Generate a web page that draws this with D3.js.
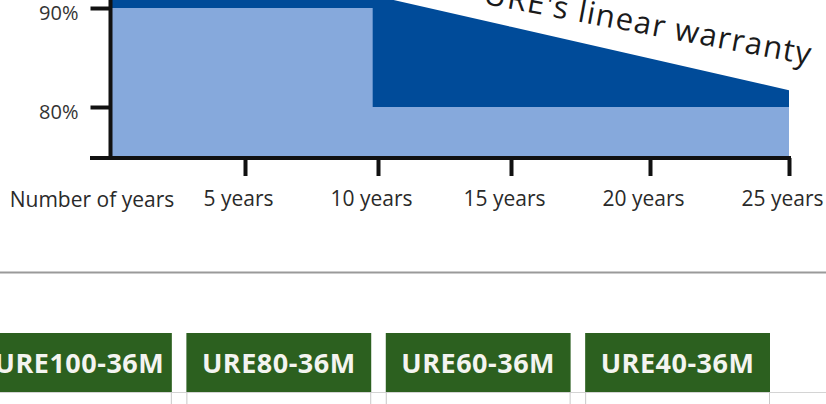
<!DOCTYPE html>
<html>
<head>
<meta charset="utf-8">
<script src="https://cdn.jsdelivr.net/npm/d3@7"></script>
<style>
  body { margin: 0; background: #fff; }
  svg { display: block; }
  text { font-family: "Open Sans", "Noto Sans", sans-serif; }
</style>
</head>
<body>
<div id="chart"></div>
<script>
// data
let stepYears = [0, 9.8, 25];
let stepPct = [90, 80, 80];
let linearYears = [0, 15, 25];
let linearPct = [97.3, 88.1, 81.7];
let yTicks = [80, 90];
let xTicks = [5, 10, 15, 20, 25];
let xTickLabels = ["5 years", "10 years", "15 years", "20 years", "25 years"];
let models = ["URE100-36M", "URE80-36M", "URE60-36M", "URE40-36M"];

let width = 826, height = 404;

let svg = d3.select("#chart")
  .append("svg")
  .attr("width", width)
  .attr("height", height);

// x is a bit uneven in the original drawing
let x = d3.scaleLinear()
  .domain([0, 15, 25])
  .range([112, 511, 789]);

let y = d3.scaleLinear()
  .domain([75, 90])
  .range([156.5, 8]);

let linearData = linearYears.map((d, i) => [d, linearPct[i]]);
let stepData = stepYears.map((d, i) => [d, stepPct[i]]);

// dark blue: linear warranty
svg.append("path")
  .datum(linearData)
  .attr("fill", "#004b99")
  .attr("d", d3.area()
    .x(d => x(d[0]))
    .y0(y(75))
    .y1(d => y(d[1])));

// light blue: step warranty on top
svg.append("path")
  .datum(stepData)
  .attr("fill", "#86a9dc")
  .attr("d", d3.area()
    .curve(d3.curveStepAfter)
    .x(d => x(d[0]))
    .y0(y(75))
    .y1(d => y(d[1])));

// label along the slope
let lx = 810, ly = 65;
svg.append("text")
  .attr("transform", "translate(" + lx + "," + ly + ") rotate(10.6)")
  .attr("text-anchor", "end")
  .attr("font-size", 31)
  .attr("letter-spacing", 1.2)
  .attr("fill", "#1a1a1a")
  .text("URE's linear warranty");

// Y axis
let yAxis = svg.append("g")
  .attr("transform", "translate(110.5,0)")
  .call(d3.axisLeft(y)
    .tickValues(yTicks)
    .tickSize(20)
    .tickPadding(12)
    .tickFormat(d => d + "%"));
yAxis.select(".domain").remove();
yAxis.selectAll(".tick line").attr("stroke", "#111").attr("stroke-width", 4);
yAxis.selectAll(".tick text")
  .attr("font-family", "Open Sans, sans-serif")
  .attr("font-size", 20)
  .attr("fill", "#333")
  .attr("dy", "0.55em");
svg.append("line")
  .attr("x1", 110.5).attr("x2", 110.5)
  .attr("y1", -10).attr("y2", 160)
  .attr("stroke", "#111").attr("stroke-width", 4);

// X axis
let xAxis = svg.append("g")
  .attr("transform", "translate(0,158)")
  .call(d3.axisBottom(x)
    .tickValues(xTicks)
    .tickSize(18)
    .tickPadding(15)
    .tickFormat((d, i) => xTickLabels[i]));
xAxis.select(".domain").remove();
xAxis.selectAll(".tick line").attr("stroke", "#111").attr("stroke-width", 4);
xAxis.selectAll(".tick text")
  .attr("font-family", "Open Sans, sans-serif")
  .attr("font-size", 21)
  .attr("fill", "#2a2a2a")
  .attr("dx", -7);
svg.append("line")
  .attr("x1", 90).attr("x2", 791)
  .attr("y1", 158).attr("y2", 158)
  .attr("stroke", "#111").attr("stroke-width", 4);

svg.append("text")
  .attr("x", 92)
  .attr("y", 207)
  .attr("text-anchor", "middle")
  .attr("font-size", 21)
  .attr("fill", "#2a2a2a")
  .text("Number of years");

// separator
svg.append("line")
  .attr("x1", 0).attr("x2", width)
  .attr("y1", 272.5).attr("y2", 272.5)
  .attr("stroke", "#9a9a9a").attr("stroke-width", 2);

// model boxes
let band = d3.scaleBand()
  .domain(models)
  .range([-13, 770])
  .paddingInner(0.073);

let boxTop = 333, boxH = 59;

svg.append("line")
  .attr("x1", 0).attr("x2", width)
  .attr("y1", boxTop + boxH + 0.5).attr("y2", boxTop + boxH + 0.5)
  .attr("stroke", "#d4d4d4").attr("stroke-width", 1);

let cells = svg.selectAll(".model")
  .data(models)
  .enter().append("g")
  .attr("class", "model");

cells.append("rect")
  .attr("x", d => band(d))
  .attr("y", boxTop)
  .attr("width", band.bandwidth())
  .attr("height", boxH)
  .attr("fill", "#2c601f");

cells.append("text")
  .attr("x", d => band(d) + band.bandwidth() / 2)
  .attr("y", boxTop + boxH / 2 + 10)
  .attr("text-anchor", "middle")
  .attr("font-family", "Roboto, sans-serif")
  .attr("font-weight", 700)
  .attr("font-size", 27)
  .attr("letter-spacing", 0.5)
  .attr("fill", "#f4f4f0")
  .text(d => d);

// table borders under the boxes
models.forEach(d => {
  [band(d) + 0.5, band(d) + band.bandwidth() - 0.5].forEach(bx => {
    svg.append("line")
      .attr("x1", bx).attr("x2", bx)
      .attr("y1", boxTop + boxH).attr("y2", height)
      .attr("stroke", "#c8c8c8").attr("stroke-width", 1);
  });
});
</script>
</body>
</html>
